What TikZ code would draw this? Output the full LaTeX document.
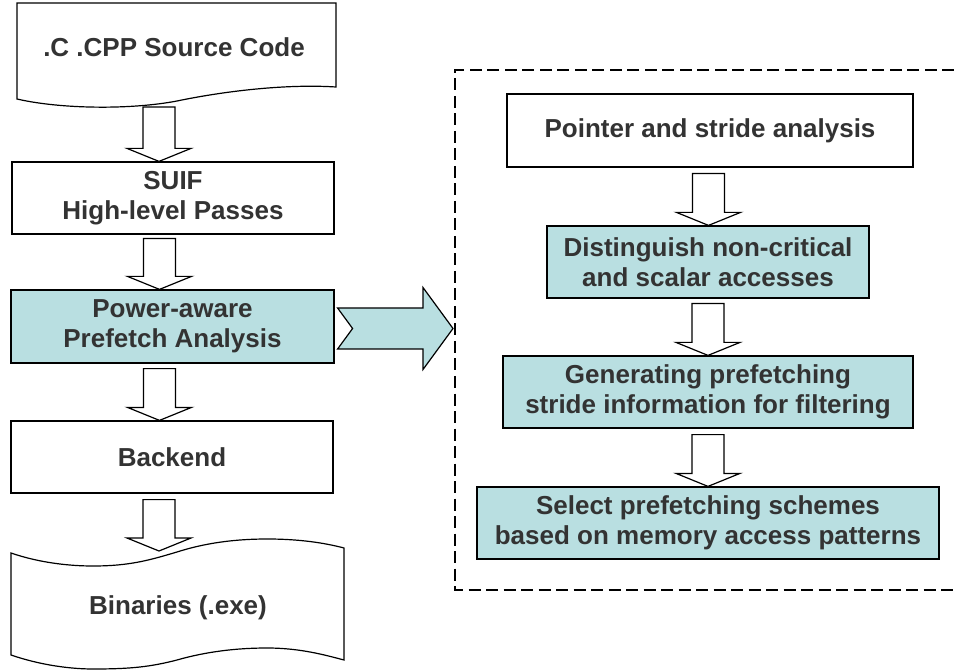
\documentclass[tikz,border=0pt]{standalone}
\usepackage{fontspec}
\setmainfont{Liberation Sans}
\usetikzlibrary{calc}

\definecolor{boxfill}{RGB}{185,223,225}
\definecolor{inktext}{RGB}{51,51,51}

\tikzset{
  stage/.style={draw=black, line width=1.2pt, inner sep=0pt, align=center,
    text=inktext, font=\fontsize{26}{30}\selectfont\bfseries},
  plain/.style={stage, fill=white},
  tinted/.style={stage, fill=boxfill},
  label only/.style={inner sep=0pt, align=center, text=inktext,
    font=\fontsize{26}{30}\selectfont\bfseries},
  outline/.style={draw=black, line width=1.2pt, fill=white},
  hollow/.style={draw=black, line width=1.2pt, fill=white, line join=miter},
  bigarrow/.style={draw=black, line width=1.2pt, fill=boxfill, line join=miter},
  frame/.style={draw=black, line width=1.3pt, dash pattern=on 12pt off 5.5pt}
}

% hollow block arrow pointing down: x and start height from #1, tip height from #2
\newcommand\downblock[2]{%
  \draw[hollow] let \p1=#1, \p2=#2 in
    (\x1-16pt,\y1) -- (\x1+16pt,\y1) -- (\x1+16pt,\y2+13pt) -- (\x1+32pt,\y2+13pt)
    -- (\x1,\y2) -- (\x1-32pt,\y2+13pt) -- (\x1-16pt,\y2+13pt) -- cycle;}

\begin{document}
\begin{tikzpicture}[x=1pt,y=-1pt]
\useasboundingbox (0,0) rectangle (954,671);

% ---- left column: compilation flow ----
% source document shape
\draw[outline] (17,99) -- (17,3) -- (336,3) -- (336,87)
  .. controls (290,84) and (230,90) .. (177,101)
  .. controls (130,110) and (60,109) .. (17,99) -- cycle;
\node[label only] (src) at (174,47) {.C .CPP Source Code};
\coordinate (srcfoot) at (159,107);

\node[plain, minimum width=322pt, minimum height=72pt] (suif) at (173,198)
  {SUIF\\High-level Passes};
\node[tinted, minimum width=323pt, minimum height=73pt] (power) at (172.5,326.5)
  {Power-aware\\Prefetch Analysis};
\node[plain, minimum width=322pt, minimum height=72pt] (backend) at (172,457)
  {Backend};

% punched-tape output shape
\draw[outline] (11,553)
  .. controls (40,563) and (70,566) .. (93,566)
  .. controls (130,566) and (150,560) .. (177,552)
  .. controls (205,543) and (235,539) .. (267,539)
  .. controls (300,539) and (325,543) .. (344,548)
  -- (344,660)
  .. controls (325,655) and (300,648) .. (267,648)
  .. controls (235,648) and (205,652) .. (177,660)
  .. controls (150,667) and (130,669) .. (93,669)
  .. controls (70,669) and (40,665) .. (11,655) -- cycle;
\node[label only] (bin) at (178,608) {Binaries (.exe)};
\coordinate (bintop) at (159,551);

\downblock{(srcfoot)}{(suif.north)}
\downblock{([xshift=-13.5pt,yshift=-4pt]suif.south)}{(power.north)}
\downblock{([xshift=-13pt,yshift=-5pt]power.south)}{(backend.north)}
\downblock{([xshift=-13pt,yshift=-6pt]backend.south)}{(bintop)}

% ---- right column: detail of the prefetch analysis ----
\draw[frame] (954,70) -- (455,70) -- (455,590) -- (954,590);
\coordinate (framein) at (453,328.5);

\node[plain, minimum width=406pt, minimum height=73pt] (pointer) at (710,130.5)
  {Pointer and stride analysis};
\node[tinted, minimum width=322pt, minimum height=72pt] (distinguish) at (708,262)
  {Distinguish non-critical\\and scalar accesses};
\node[tinted, minimum width=410pt, minimum height=72pt] (generating) at (708,392)
  {Generating prefetching\\stride information for filtering};
\node[tinted, minimum width=462pt, minimum height=72pt] (select) at (708,523)
  {Select prefetching schemes\\based on memory access patterns};

\downblock{([xshift=-1.5pt,yshift=-6pt]pointer.south)}{(distinguish.north)}
\downblock{([xshift=0pt,yshift=-5pt]distinguish.south)}{(generating.north)}
\downblock{([xshift=0pt,yshift=-6pt]generating.south)}{(select.north)}

% wide notched arrow from the analysis stage into its detail
\draw[bigarrow] let \p1=([xshift=3pt,yshift=-2pt]power.east), \p2=(framein) in
  (\x1,\y1+20.5pt) -- (\x2-30pt,\y1+20.5pt) -- (\x2-30pt,\y1+41pt) -- (\x2,\y1)
  -- (\x2-30pt,\y1-41pt) -- (\x2-30pt,\y1-20.5pt) -- (\x1,\y1-20.5pt)
  -- (\x1+15pt,\y1) -- cycle;
\end{tikzpicture}
\end{document}
